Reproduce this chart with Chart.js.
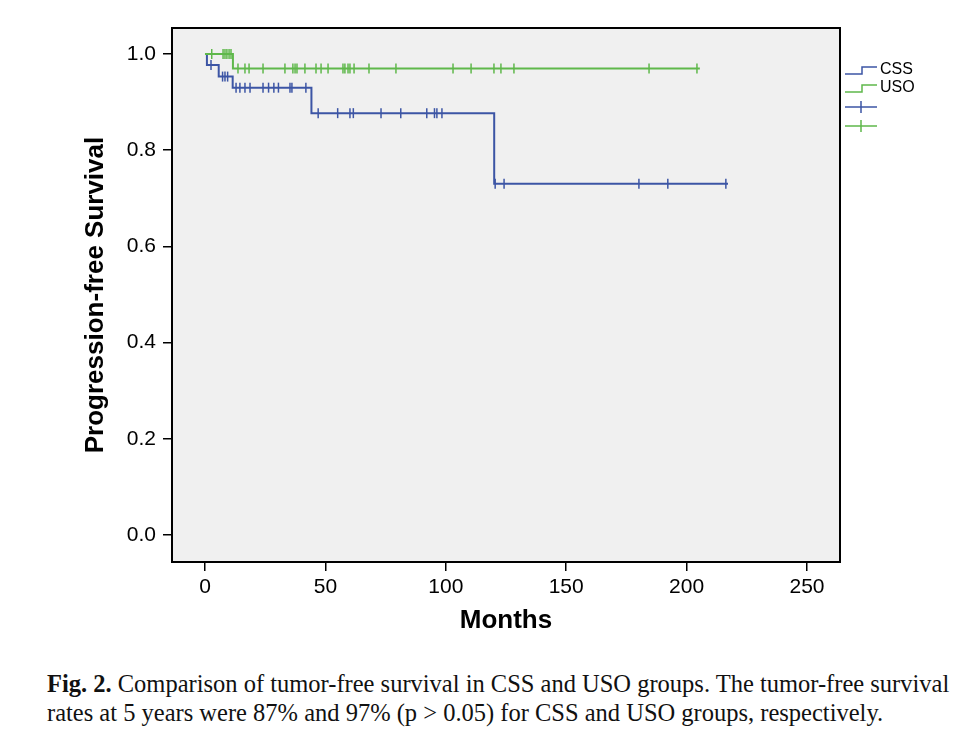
<!DOCTYPE html>
<html>
<head>
<meta charset="utf-8">
<script src="https://cdn.jsdelivr.net/npm/chart.js@4"></script>
<style>
  html, body { margin: 0; padding: 0; background: #fff; }
  #wrap { position: relative; width: 978px; height: 750px; }
  #chart { position: absolute; left: 0; top: 0; }
  #caption {
    position: absolute; left: 47px; top: 669px;
    font-family: "Liberation Serif", "DejaVu Serif", serif;
    font-size: 24.5px; line-height: 29px; color: #111;
    white-space: nowrap;
  }
  #caption b { font-weight: bold; }
</style>
</head>
<body>
<div id="wrap">
  <canvas id="chart" width="978" height="650"></canvas>
  <div id="caption">
    <div id="cap1"><b>Fig. 2.</b> Comparison of tumor-free survival in CSS and USO groups. The tumor-free survival</div>
    <div id="cap2">rates at 5 years were 87% and 97% (p &gt; 0.05) for CSS and USO groups, respectively.</div>
  </div>
</div>
<script>
// ── Data (months / survival proportion) ─────────────────────
const cssTimes = [0, 0.8, 5.7, 11.5, 44.2, 120.1, 217.2];
const cssSurv  = [1.0, 0.977, 0.953, 0.930, 0.877, 0.730, 0.730];
const cssCensored = [2.5, 7.3, 8.3, 9.4, 12.9, 14.5, 16.6, 18.7, 24.1, 26.4, 28.6, 30.5,
  35.3, 36.1, 41.9, 47.0, 55.1, 60.2, 61.6, 73.1, 81.3, 92.1, 95.3, 96.3, 98.4,
  120.5, 124.2, 180.2, 192.2, 216.3];

const usoTimes = [0, 11.6, 205.5];
const usoSurv  = [1.0, 0.970, 0.970];
const usoCensored = [2.8, 7.5, 8.3, 9.1, 10.0, 10.8, 13.7, 16.6, 18.3, 24.1, 33.2, 36.5,
  37.4, 38.2, 41.5, 46.1, 48.2, 51.1, 57.3, 58.1, 59.4, 60.2, 61.9, 68.1, 79.3,
  103.0, 110.5, 120.0, 122.9, 128.3, 184.4, 204.3];

const xTicks = [0, 50, 100, 150, 200, 250];
const yTicks = [0.0, 0.2, 0.4, 0.6, 0.8, 1.0];

const CSS_COLOR = '#3c55a5';
const USO_COLOR = '#5fb84b';

// survival value of a step curve at time t
function survAt(times, surv, t) {
  let v = surv[0];
  for (let i = 0; i < times.length; i++) if (times[i] <= t) v = surv[i];
  return v;
}

const curve = (times, surv) => times.map((t, i) => ({ x: t, y: surv[i] }));
const marks = (cens, times, surv) => cens.map(t => ({ x: t, y: survAt(times, surv, t) }));

// ── Plot background + frame ─────────────────────────────────
const framePlugin = {
  id: 'frame',
  beforeDatasetsDraw(chart) {
    const { ctx, chartArea: a } = chart;
    ctx.save();
    ctx.fillStyle = '#f0f0f0';
    ctx.fillRect(a.left, a.top, a.right - a.left, a.bottom - a.top);
    ctx.restore();
  },
  afterDraw(chart) {
    const { ctx, chartArea: a } = chart;
    ctx.save();
    ctx.strokeStyle = '#000';
    ctx.lineWidth = 2;
    ctx.strokeRect(a.left, a.top, a.right - a.left, a.bottom - a.top);
    ctx.restore();
  }
};

// ── Legend (step icons + censor icons) ─────────────────────
const legendPlugin = {
  id: 'kmLegend',
  afterDraw(chart) {
    const { ctx } = chart;
    const x0 = 845, x1 = 877;
    ctx.save();
    ctx.lineWidth = 1.5;
    [[CSS_COLOR, 'CSS', 70], [USO_COLOR, 'USO', 88]].forEach(([c, label, y]) => {
      ctx.strokeStyle = c;
      ctx.beginPath();
      ctx.moveTo(x0, y + 4); ctx.lineTo(862, y + 4); ctx.lineTo(862, y - 3); ctx.lineTo(x1, y - 3);
      ctx.stroke();
      ctx.fillStyle = '#000';
      ctx.font = '16px "Liberation Sans", Arial, sans-serif';
      ctx.textBaseline = 'middle';
      ctx.fillText(label, 880, y);
    });
    [[CSS_COLOR, 107], [USO_COLOR, 126]].forEach(([c, y]) => {
      ctx.strokeStyle = c;
      ctx.beginPath();
      ctx.moveTo(x0, y); ctx.lineTo(x1, y);
      ctx.moveTo(861, y - 6); ctx.lineTo(861, y + 6);
      ctx.stroke();
    });
    ctx.restore();
  }
};

const stepSet = (data, color) => ({
  type: 'line', data, borderColor: color, borderWidth: 2,
  stepped: 'before', pointRadius: 0, fill: false, tension: 0,
});
const censorSet = (data, color) => ({
  type: 'scatter', data, borderColor: color, backgroundColor: color,
  pointStyle: 'line', rotation: 90, pointRadius: 5, borderWidth: 1.5, showLine: false,
});

const tickFont = { family: '"Liberation Sans", Arial, sans-serif', size: 21 };
const titleFont = { family: '"Liberation Sans", Arial, sans-serif', size: 26, weight: 'bold' };

new Chart(document.getElementById('chart'), {
  data: {
    datasets: [
      stepSet(curve(usoTimes, usoSurv), USO_COLOR),
      censorSet(marks(usoCensored, usoTimes, usoSurv), USO_COLOR),
      stepSet(curve(cssTimes, cssSurv), CSS_COLOR),
      censorSet(marks(cssCensored, cssTimes, cssSurv), CSS_COLOR),
    ],
  },
  options: {
    responsive: false,
    animation: false,
    layout: { padding: { left: 0, top: 28, right: 138, bottom: 0 } },
    plugins: { legend: { display: false }, tooltip: { enabled: false } },
    scales: {
      x: {
        type: 'linear', min: -13.7, max: 263.7,
        afterBuildTicks: s => { s.ticks = xTicks.map(v => ({ value: v })); },
        afterFit: s => { s.height = 88; },
        ticks: { color: '#000', font: tickFont, padding: 4, maxRotation: 0 },
        grid: { drawOnChartArea: false, drawTicks: true, tickLength: 9, color: '#000', lineWidth: 1.5 },
        border: { display: false },
        title: { display: true, text: 'Months', color: '#000', font: titleFont, padding: { top: 0, bottom: 14 } },
      },
      y: {
        type: 'linear', min: -0.056, max: 1.054,
        afterBuildTicks: s => { s.ticks = yTicks.map(v => ({ value: v })); },
        afterFit: s => { s.width = 172; },
        ticks: { color: '#000', font: tickFont, padding: 7, callback: v => v.toFixed(1) },
        grid: { drawOnChartArea: false, drawTicks: true, tickLength: 9, color: '#000', lineWidth: 1.5 },
        border: { display: false },
        title: { display: true, text: 'Progression-free Survival', color: '#000', font: titleFont, padding: { top: 80, bottom: 0 } },
      },
    },
  },
  plugins: [framePlugin, legendPlugin],
});
</script>
</body>
</html>
